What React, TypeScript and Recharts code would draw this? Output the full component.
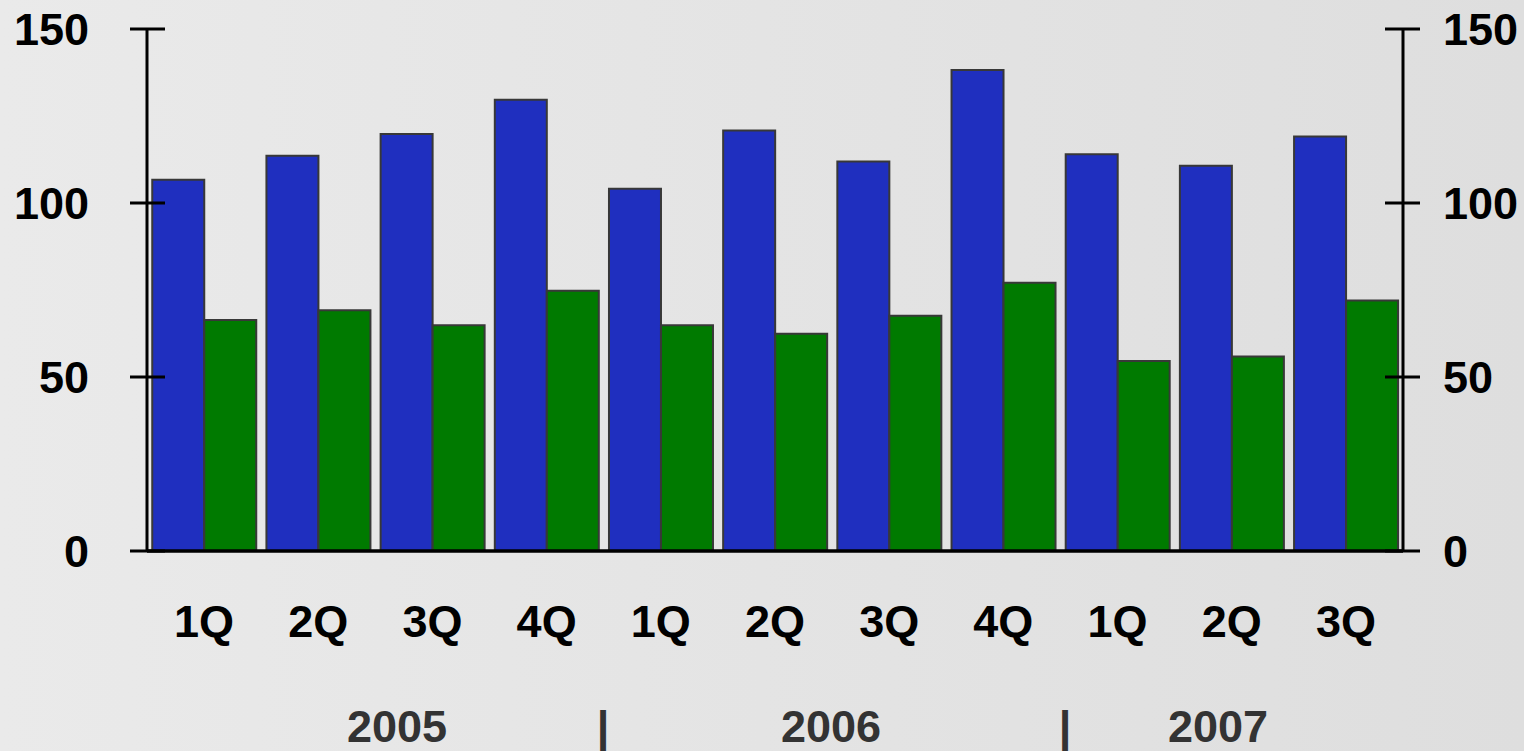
import { BarChart, Bar, XAxis, YAxis } from 'recharts';

const quarters = ['1Q', '2Q', '3Q', '4Q', '1Q', '2Q', '3Q', '4Q', '1Q', '2Q', '3Q'];
const blueValues = [106.7, 113.6, 119.8, 129.7, 104.1, 120.8, 111.9, 138.2, 114.0, 110.7, 119.1];
const greenValues = [66.4, 69.2, 64.9, 74.8, 64.9, 62.4, 67.6, 77.1, 54.6, 55.9, 72.0];
const yTicks = [0, 50, 100, 150];
const yearLabels = ['2005', '|', '2006', '|', '2007'];

const chartData = quarters.map((q, i) => ({
  quarter: q,
  blue: blueValues[i],
  green: greenValues[i],
}));

const FONT = '"Liberation Sans", Arial, Helvetica, sans-serif';
const yearX = [397, 603, 831, 1065, 1218];

const LeftTick = (props: any) => {
  const { x, y, payload } = props;
  return (
    <g>
      <line x1={x - 17} x2={x + 18} y1={y} y2={y} stroke="#000" strokeWidth={3} />
      <text x={x - 58} y={y + 16} textAnchor="end" fontSize={45} fontWeight="bold" fontFamily={FONT} fill="#000">
        {payload.value}
      </text>
    </g>
  );
};

const RightTick = (props: any) => {
  const { x, y, payload } = props;
  return (
    <g>
      <line x1={x - 18} x2={x + 17} y1={y} y2={y} stroke="#000" strokeWidth={3} />
      <text x={x + 40} y={y + 16} textAnchor="start" fontSize={45} fontWeight="bold" fontFamily={FONT} fill="#000">
        {payload.value}
      </text>
    </g>
  );
};

const BottomTick = (props: any) => {
  const { x, y, payload } = props;
  return (
    <text x={x} y={y + 86} textAnchor="middle" fontSize={45} fontWeight="bold" fontFamily={FONT} fill="#000">
      {payload.value}
    </text>
  );
};

export default function App() {
  return (
    <div
      style={{
        position: 'absolute',
        left: 0,
        top: 0,
        width: 1524,
        height: 751,
        background: 'linear-gradient(to right, #eaeaea, #dedede)',
        overflow: 'hidden',
      }}
    >
      <BarChart
        width={1524}
        height={751}
        data={chartData}
        margin={{ top: 29, right: 0, left: 0, bottom: 0 }}
        barCategoryGap="4.6%"
        barGap={0}
      >
        <XAxis
          dataKey="quarter"
          interval={0}
          tickLine={false}
          tickSize={0}
          tickMargin={0}
          axisLine={{ stroke: '#000', strokeWidth: 3.5 }}
          tick={<BottomTick />}
          height={200}
        />
        <YAxis
          yAxisId="left"
          width={147}
          domain={[0, 150]}
          ticks={yTicks}
          interval={0}
          tickLine={false}
          tickSize={0}
          tickMargin={0}
          axisLine={{ stroke: '#000', strokeWidth: 3 }}
          tick={<LeftTick />}
        />
        <YAxis
          yAxisId="right"
          orientation="right"
          width={121}
          domain={[0, 150]}
          ticks={yTicks}
          interval={0}
          tickLine={false}
          tickSize={0}
          tickMargin={0}
          axisLine={{ stroke: '#000', strokeWidth: 3 }}
          tick={<RightTick />}
        />
        <Bar yAxisId="left" dataKey="blue" fill="#1f2fbf" stroke="#383838" strokeWidth={2} isAnimationActive={false} />
        <Bar yAxisId="right" dataKey="green" fill="#007a00" stroke="#383838" strokeWidth={2} isAnimationActive={false} />
      </BarChart>
      <svg width={1524} height={751} style={{ position: 'absolute', left: 0, top: 0, pointerEvents: 'none' }}>
        {yearLabels.map((label, i) => (
          <text
            key={i}
            x={yearX[i]}
            y={742}
            textAnchor="middle"
            fontSize={45}
            fontWeight="bold"
            fontFamily={FONT}
            fill="#333"
          >
            {label}
          </text>
        ))}
      </svg>
    </div>
  );
}
